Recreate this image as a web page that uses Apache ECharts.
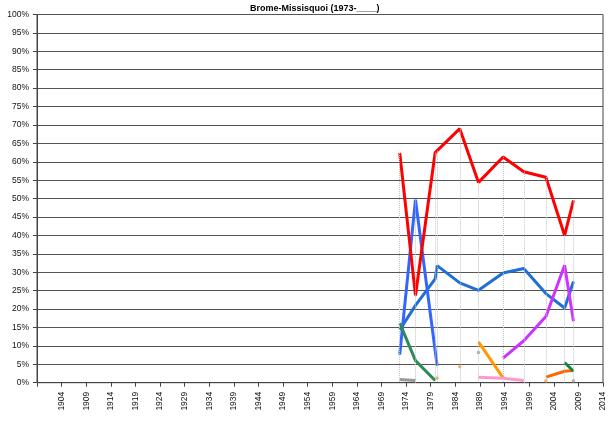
<!DOCTYPE html>
<html><head><meta charset="utf-8">
<script src="https://cdn.jsdelivr.net/npm/echarts@6/dist/echarts.min.js"></script>
<style>html,body{margin:0;padding:0;background:#fff}#c{width:610px;height:421px}</style>
</head><body><div id="c"></div>
<script>
// Dates as placed on the chart's year axis
const years = [1972.7, 1975.9, 1979.9, 1980.3, 1984.9, 1988.7, 1993.7, 1997.9, 2002.4, 2006.2, 2008.0];
const AXIS_START = 1899, AXIS_END = 2014, TICK_STEP = 5;
const yTicks = [0,5,10,15,20,25,30,35,40,45,50,55,60,65,70,75,80,85,90,95,100];

const redSeries    = [62.4, 23.7, 62.5, 63.0, 69.0, 54.4, 61.3, 57.3, 55.8, 40.0, 49.5];
const blueSeries   = [14.3, 21.0, 28.2, 31.8, 27.1, 25.1, 29.8, 31.0, 24.2, 20.3, 27.5];
const brightBlue   = [7.6, 49.7, null, 4.6, null, null, null, null, null, null, null];
const greenSeries  = [16.2, 6.0, 0.6, null, null, null, null, null, null, null, null];
const greySeries   = [0.9, 0.6, null, null, null, null, null, null, null, null, null];
const orangeSeries = [null, null, null, null, null, 11.1, 1.3, null, null, null, null];
const pinkSeries   = [null, null, null, null, null, 1.5, 1.2, 0.6, null, null, null];
const purpleSeries = [null, null, null, null, null, null, 6.7, 11.4, 18.0, 31.9, 16.7];
const darkOrange   = [null, null, null, null, null, null, null, null, 1.5, 3.1, 3.3];
const green2Series = [null, null, null, null, null, null, null, null, null, 5.5, 3.1];
const orangeDots   = [null, null, null, 1.3, 4.3, null, null, null, 0.5, null, null];
const greyDots     = [null, null, null, null, null, 8.2, null, null, null, null, 0.5];

const lineDefs = [
  {name:'s1', data:blueSeries,   color:'#1F6FD6'},
  {name:'s2', data:brightBlue,   color:'#3366FF'},
  {name:'s3', data:greenSeries,  color:'#2E8B57'},
  {name:'s4', data:greySeries,   color:'#999999'},
  {name:'s5', data:orangeSeries, color:'#FF9900'},
  {name:'s6', data:pinkSeries,   color:'#FF99CC'},
  {name:'s7', data:purpleSeries, color:'#CC33FF'},
  {name:'s8', data:darkOrange,   color:'#FF6600'},
  {name:'s9', data:green2Series, color:'#0E8A3C'},
  {name:'s0', data:redSeries,    color:'#FF0000'}
];
const dotDefs = [
  {name:'d1', data:orangeDots, color:'#FF9933'},
  {name:'d2', data:greyDots,   color:'#999999'}
];

const toPts = arr => arr.map((v,i)=> v==null ? null : [years[i]-AXIS_START, v]).filter(p=>p);

const allArrays = lineDefs.concat(dotDefs).map(d=>d.data);
const dropLines = years.map((y,i)=>{
  let m = -1;
  allArrays.forEach(a=>{ if(a[i]!=null && a[i]>m) m=a[i]; });
  return [{coord:[y-AXIS_START, m]}, {coord:[y-AXIS_START, 0]}];
});

const series = [];
series.push({
  type:'line', data:[], z:1, silent:true,
  markLine:{ silent:true, symbol:['none','none'], label:{show:false},
    lineStyle:{color:'#c4c4c4', type:'dotted', width:1}, data:dropLines, animation:false }
});
lineDefs.forEach(d=>series.push({
  type:'line', name:d.name, data:toPts(d.data), showSymbol:false, connectNulls:true, z:3,
  lineStyle:{color:d.color, width:3}, itemStyle:{color:d.color}, animation:false
}));
dotDefs.forEach(d=>series.push({
  type:'scatter', name:d.name, data:toPts(d.data), symbol:'circle', symbolSize:3.5, z:3,
  itemStyle:{color:d.color}, animation:false
}));

const chart = echarts.init(document.getElementById('c'), null, {renderer:'canvas'});
chart.setOption({
  backgroundColor:'#fff',
  animation:false,
  title:{ text:'Brome-Missisquoi (1973-____)', left:250, top:4, padding:0,
    textStyle:{fontFamily:'Liberation Sans, Arial', fontSize:9, fontWeight:'bold', color:'#000'} },
  grid:{ left:37, right:7, top:14.5, bottom:38.3, show:true, borderColor:'#444', borderWidth:1 },
  xAxis:{ type:'value', min:0, max:AXIS_END-AXIS_START, interval:TICK_STEP,
    splitLine:{show:false},
    axisLine:{lineStyle:{color:'#444', width:1}},
    axisTick:{show:true, length:4, inside:false, lineStyle:{color:'#444'}},
    axisLabel:{ rotate:90, margin:9, fontSize:8.5, color:'#111', fontFamily:'Liberation Sans, Arial',
      formatter: v => v===0 ? '' : String(AXIS_START+v) } },
  yAxis:{ type:'value', min:yTicks[0], max:yTicks[yTicks.length-1], interval:yTicks[1]-yTicks[0],
    splitLine:{show:true, lineStyle:{color:'#555', width:1}},
    axisLine:{show:true, lineStyle:{color:'#444', width:1}},
    axisTick:{show:true, length:4, lineStyle:{color:'#444'}},
    axisLabel:{ margin:8, fontSize:8.5, color:'#111', fontFamily:'Liberation Sans, Arial',
      formatter:'{value}%' } },
  series
});
</script></body></html>
